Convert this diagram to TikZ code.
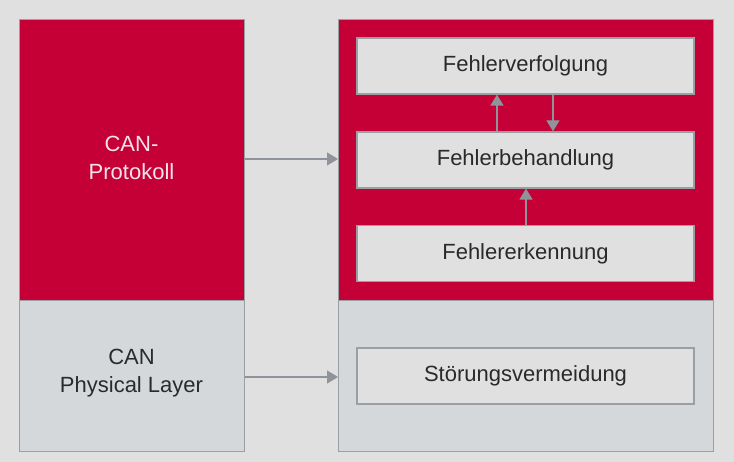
\documentclass[tikz,border=0pt]{standalone}
\usepackage{fontspec}
\setmainfont{Liberation Sans}
\usetikzlibrary{arrows.meta}
\definecolor{bg}{HTML}{E0E0E0}
\definecolor{canred}{HTML}{C50037}
\definecolor{phys}{HTML}{D5D8DB}
\definecolor{edge}{HTML}{9A9FA3}
\definecolor{arr}{HTML}{8E9499}
\definecolor{txt}{HTML}{2A2A2A}
\definecolor{wtxt}{HTML}{F2E4E8}
\tikzset{
  blk/.style={draw=edge, line width=1.2pt, anchor=north west, inner sep=0pt},
  inbox/.style={draw=edge, line width=1.2pt, fill=bg, minimum width=337pt, minimum height=56pt, inner sep=0pt, font=\fontsize{22}{26}\selectfont, text=txt},
  conn/.style={draw=arr, line width=1.2pt, -{Triangle[length=11pt,width=13pt]}},
  lbl/.style={font=\fontsize{22}{28}\selectfont, align=center}
}
\begin{document}
\begin{tikzpicture}[x=1pt,y=-1pt]
\useasboundingbox (0,0) rectangle (734,462);
\fill[bg] (0,0) rectangle (734,462);
% left column
\node[blk, fill=canred, minimum width=225pt, minimum height=281pt] (proto) at (19,19) {};
\node[blk, fill=phys, minimum width=225pt, minimum height=151pt] (physl) at (19,300) {};
\node[lbl, text=wtxt] (protot) at (131.5,158) {CAN-\\Protokoll};
\node[lbl, text=txt] (physt) at (131.5,373) {CAN\\Physical Layer};
% right column
\node[blk, fill=canred, minimum width=375pt, minimum height=281pt] (rproto) at (338,19) {};
\node[blk, fill=phys, minimum width=375pt, minimum height=151pt] (rphys) at (338,300) {};
\node[inbox] (verf) at (525.5,66) {Fehlerverfolgung};
\node[inbox] (beh) at (525.5,160) {Fehlerbehandlung};
\node[inbox] (erk) at (525.5,253.5) {Fehlererkennung};
\node[inbox] (stoer) at (525.5,376) {Störungsvermeidung};
% connectors
\coordinate (a1) at (proto.east |- 0,159);
\coordinate (a2) at (rproto.west |- 0,159);
\draw[conn] (a1) -- (a2);
\coordinate (b1) at (physl.east |- 0,377);
\coordinate (b2) at (rphys.west |- 0,377);
\draw[conn] (b1) -- (b2);
\draw[conn] (beh.north -| 497,0) -- (verf.south -| 497,0);
\draw[conn] (verf.south -| 553,0) -- (beh.north -| 553,0);
\draw[conn] (erk.north -| 526,0) -- (beh.south -| 526,0);
\end{tikzpicture}
\end{document}
